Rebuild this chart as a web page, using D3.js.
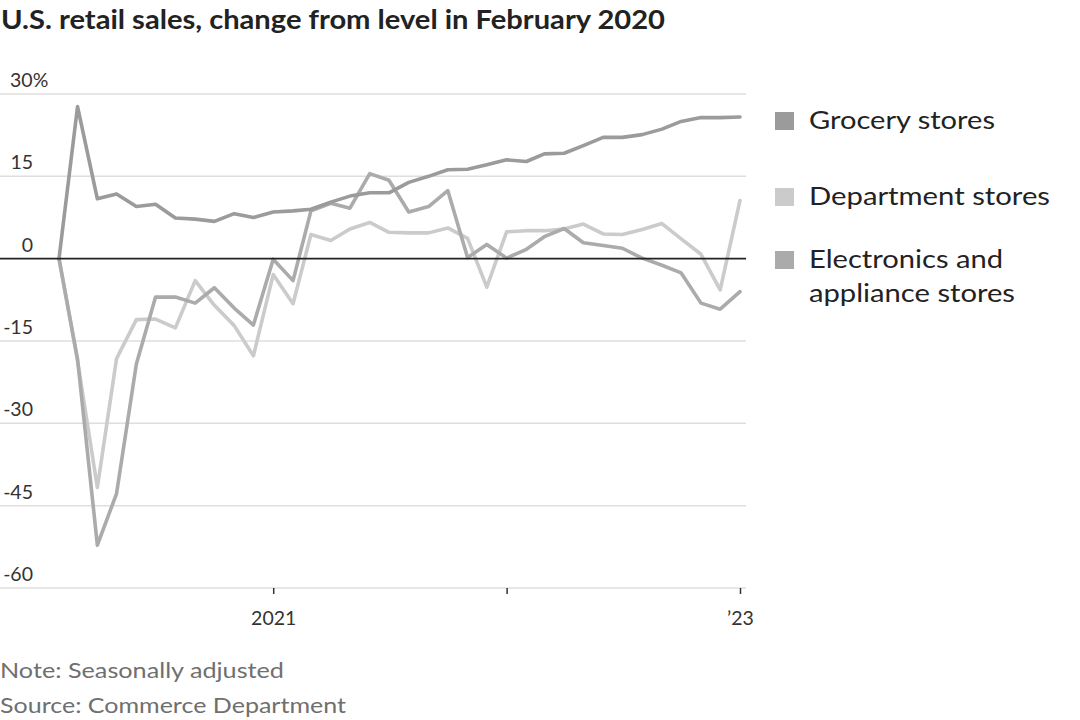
<!DOCTYPE html>
<html>
<head>
<meta charset="utf-8">
<script src="https://cdn.jsdelivr.net/npm/d3@7"></script>
<style>
  html, body { margin: 0; padding: 0; background: #fff; }
  svg { display: block; }
</style>
</head>
<body>
<svg id="chart" width="1080" height="720"></svg>
<script>
// ---- data ----
const months = ["2020-02","2020-03","2020-04","2020-05","2020-06","2020-07","2020-08","2020-09","2020-10","2020-11","2020-12",
  "2021-01","2021-02","2021-03","2021-04","2021-05","2021-06","2021-07","2021-08","2021-09","2021-10","2021-11","2021-12",
  "2022-01","2022-02","2022-03","2022-04","2022-05","2022-06","2022-07","2022-08","2022-09","2022-10","2022-11","2022-12",
  "2023-01"];
const grocery = [0, 27.7, 10.9, 11.8, 9.5, 9.9, 7.4, 7.2, 6.8, 8.2, 7.5, 8.5, 8.7, 9.0, 10.3, 11.4, 12.0, 12.0, 13.9, 15.0,
  16.2, 16.3, 17.1, 18.0, 17.7, 19.1, 19.2, 20.6, 22.1, 22.1, 22.6, 23.6, 25.0, 25.7, 25.7, 25.8];
const department = [0, -18.6, -41.7, -18.2, -11.1, -11.0, -12.6, -4.0, -8.5, -12.2, -17.7, -2.9, -8.2, 4.4, 3.3, 5.4, 6.6, 4.8,
  4.7, 4.7, 5.6, 3.7, -5.2, 4.9, 5.1, 5.1, 5.4, 6.3, 4.5, 4.4, 5.3, 6.4, 3.6, 0.8, -5.7, 10.6];
const electronics = [0, -18.3, -52.2, -42.8, -19.2, -7.0, -7.0, -8.1, -5.3, -9.0, -12.1, -0.1, -4.0, 8.7, 10.1, 9.2, 15.5, 14.3,
  8.5, 9.5, 12.4, 0.2, 2.6, 0.1, 1.7, 4.0, 5.5, 2.9, 2.4, 1.9, 0.1, -1.2, -2.6, -8.1, -9.2, -6.0];
const yTicks = [30, 15, 0, -15, -30, -45, -60];
const xTickDates = ["2021-01", "2022-01", "2023-01"];
const xTickLabels = ["2021", "", "\u201923"];
const seriesNames = ["Grocery stores", "Department stores", "Electronics and|appliance stores"];
const seriesColors = ["#9b9b9b", "#cbcbcb", "#ababab"];
const titleText = "U.S. retail sales, change from level in February 2020";
const notes = ["Note: Seasonally adjusted", "Source: Commerce Department"];

// ---- drawing ----
const svg = d3.select("#chart");
const parse = d3.timeParse("%Y-%m");
const dates = months.map(parse);

const x = d3.scaleTime().domain([dates[0], dates[dates.length - 1]]).range([59, 740]);
const y = d3.scaleLinear().domain([-60, 30]).range([588, 94]);
const font = "Lato, 'Open Sans', sans-serif";

function fit(sel, w) {
  sel.each(function () {
    const len = this.getComputedTextLength();
    if (len > 0) d3.select(this).attr("textLength", w).attr("lengthAdjust", "spacingAndGlyphs");
  });
}

// title
svg.append("text").attr("x", 1).attr("y", 29)
  .attr("font-family", font).attr("font-weight", 700).attr("font-size", 26).attr("fill", "#222")
  .text(titleText).call(fit, 664);

// gridlines
const grid = svg.append("g");
grid.selectAll("line").data(yTicks.filter(d => d !== 0)).join("line")
  .attr("x1", 0).attr("x2", 746).attr("y1", d => y(d)).attr("y2", d => y(d))
  .attr("stroke", "#dedede").attr("stroke-width", 1.5);

// y labels
const yl = svg.append("g").attr("font-family", font).attr("font-size", 19.5).attr("fill", "#333");
yl.selectAll("text").data(yTicks).join("text")
  .attr("x", 33).attr("y", d => y(d) - 7).attr("text-anchor", "end")
  .text(d => d)
  .each(function (d) {
    if (d === 30) {
      d3.select(this).append("tspan").text("%");
      d3.select(this).attr("text-anchor", "start").attr("x", 10);
    }
  });

// x axis ticks
const xa = svg.append("g").attr("transform", `translate(0,${y(-60)})`)
  .call(d3.axisBottom(x).tickValues(xTickDates.map(parse)).tickSize(6).tickFormat((d, i) => xTickLabels[i]));
xa.select(".domain").remove();
xa.selectAll(".tick line").attr("stroke", "#333").attr("stroke-width", 1.5);
xa.selectAll(".tick text").attr("font-family", font).attr("font-size", 19.5).attr("fill", "#333").attr("dy", "1.45em");

// lines
const line = d3.line().x((d, i) => x(dates[i])).y(d => y(d));
const seriesData = [grocery, department, electronics];
const order = [1, 2, 0];
svg.append("g").selectAll("path").data(order).join("path")
  .attr("d", i => line(seriesData[i]))
  .attr("fill", "none").attr("stroke", i => seriesColors[i])
  .attr("stroke-width", 3.6).attr("stroke-linejoin", "round").attr("stroke-linecap", "round");

// zero line
svg.append("line").attr("x1", 0).attr("x2", 746).attr("y1", y(0)).attr("y2", y(0))
  .attr("stroke", "#222").attr("stroke-width", 1.6);

// legend
const legendY = [120, 196, 259];
const lg = svg.append("g").attr("font-family", font).attr("font-size", 25).attr("fill", "#222");
seriesNames.forEach((name, i) => {
  lg.append("rect").attr("x", 775).attr("y", legendY[i] - 8).attr("width", 19).attr("height", 18)
    .attr("fill", seriesColors[i]);
  name.split("|").forEach((part, j) => {
    lg.append("text").attr("x", 809).attr("y", legendY[i] + 9 + j * 34).text(part);
  });
});
const legendWidths = {"Grocery stores": 186, "Department stores": 241, "Electronics and": 194, "appliance stores": 206};
lg.selectAll("text").each(function () {
  const t = d3.select(this).text();
  if (legendWidths[t]) d3.select(this).call(fit, legendWidths[t]);
});

// notes
const nt = svg.append("g").attr("font-family", font).attr("font-size", 22).attr("fill", "#6f6f6f");
const noteWidths = [284, 346];
notes.forEach((t, i) => {
  nt.append("text").attr("x", 0).attr("y", 678 + i * 35).text(t).call(fit, noteWidths[i]);
});
</script>
</body>
</html>
